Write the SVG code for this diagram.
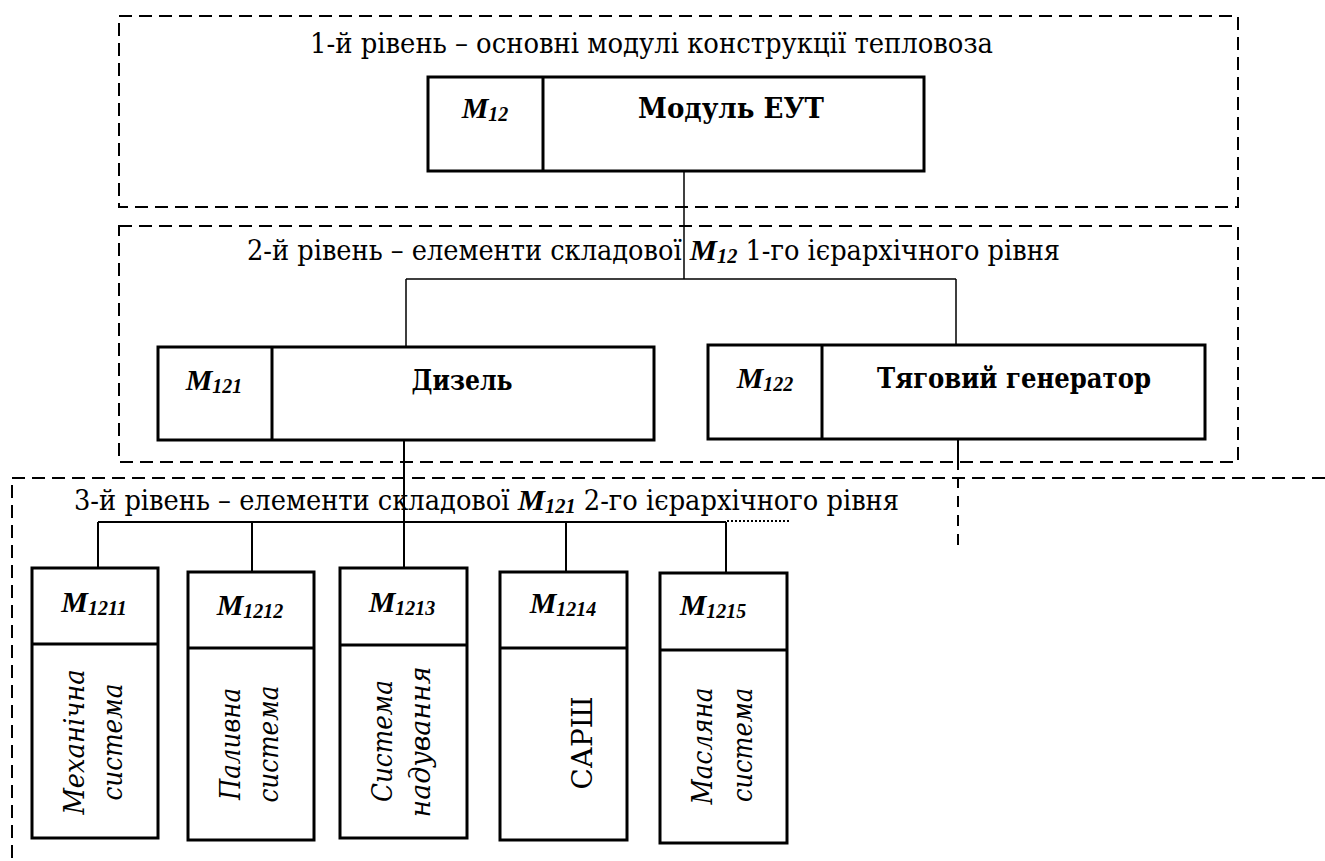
<svg xmlns="http://www.w3.org/2000/svg" width="1325" height="861" viewBox="0 0 1325 861">
<style>
.dash{fill:none;stroke:#000;stroke-width:2;stroke-dasharray:13 7}
.box{fill:#fff;stroke:#000;stroke-width:3}
.div{stroke:#000;stroke-width:3}
.con{fill:none;stroke:#000;stroke-width:1.5}
.con3{fill:none;stroke:#000;stroke-width:2}
.t{font-family:'DejaVu Serif',serif;font-stretch:condensed;font-size:28px;fill:#000}
.m{font-family:'Liberation Serif','Times New Roman',serif;font-stretch:normal;font-weight:bold;font-style:italic;font-size:30px}
.mid{text-anchor:middle}
.b{font-weight:bold}
.i{font-style:italic}
.sub{font-size:20px}
</style>
<rect width="1325" height="861" fill="#fff"/>
<g id="levels">
<rect class="dash" x="119" y="16" width="1119" height="191"/>
<rect class="dash" x="119" y="226" width="1119" height="236"/>
<path class="dash" d="M1325,478 H12 V861"/>
<text class="t" x="310" y="53" textLength="683" lengthAdjust="spacingAndGlyphs">1-й рівень – основні модулі конструкції тепловоза</text>
<text class="t" x="247" y="260" textLength="813" lengthAdjust="spacingAndGlyphs">2-й рівень – елементи складової <tspan class="m">M</tspan><tspan class="m sub" dy="3">12</tspan><tspan dy="-3"> 1-го ієрархічного рівня</tspan></text>
<text class="t" x="74" y="510" textLength="825" lengthAdjust="spacingAndGlyphs">3-й рівень – елементи складової <tspan class="m">M</tspan><tspan class="m sub" dy="3">121</tspan><tspan dy="-3"> 2-го ієрархічного рівня</tspan></text>
</g>
<g id="connectors">
<path class="con" d="M684,172 V279"/>
<path class="con" d="M406,279 H956 M406,279 V347 M956,279 V345"/>
<path class="con3" d="M404,440 V568"/>
<path class="con3" d="M958,439 V470"/>
<path class="con3" d="M958,477 V552" stroke-dasharray="11 8"/>
<path class="con3" d="M98,522 H726 M98,522 V568 M252,522 V572 M566,522 V572 M726,522 V573"/>
<path class="con3" d="M727,521 H790" stroke-dasharray="2 2"/>
</g>
<g id="n-m12">
<rect class="box" x="428" y="77" width="496" height="94"/>
<line class="div" x1="543" y1="77" x2="543" y2="171"/>
<text class="m mid" x="485" y="118">M<tspan class="sub" dy="3">12</tspan></text>
<text class="t mid b" x="731" y="118" textLength="186" lengthAdjust="spacingAndGlyphs">Модуль ЕУТ</text>
</g>
<g id="n-m121">
<rect class="box" x="158" y="347" width="496" height="93"/>
<line class="div" x1="272" y1="347" x2="272" y2="440"/>
<text class="m mid" x="214" y="390">M<tspan class="sub" dy="3">121</tspan></text>
<text class="t mid b" x="462" y="390" textLength="101" lengthAdjust="spacingAndGlyphs">Дизель</text>
</g>
<g id="n-m122">
<rect class="box" x="708" y="345" width="497" height="94"/>
<line class="div" x1="822" y1="345" x2="822" y2="439"/>
<text class="m mid" x="765" y="388">M<tspan class="sub" dy="3">122</tspan></text>
<text class="t mid b" x="1014" y="388" textLength="274" lengthAdjust="spacingAndGlyphs">Тяговий генератор</text>
</g>
<g id="n-m1211">
<rect class="box" x="32" y="568" width="126" height="270"/>
<line class="div" x1="32" y1="644" x2="158" y2="644"/>
<text class="m mid" x="94" y="612">M<tspan class="sub" dy="3">1211</tspan></text>
<text class="t mid i" transform="translate(84,742) rotate(-90)" textLength="145" lengthAdjust="spacingAndGlyphs">Механічна</text>
<text class="t mid i" transform="translate(122,742) rotate(-90)" textLength="117" lengthAdjust="spacingAndGlyphs">система</text>
</g>
<g id="n-m1212">
<rect class="box" x="188" y="572" width="126" height="268"/>
<line class="div" x1="188" y1="648" x2="314" y2="648"/>
<text class="m mid" x="250" y="615">M<tspan class="sub" dy="3">1212</tspan></text>
<text class="t mid i" transform="translate(240,744) rotate(-90)" textLength="112" lengthAdjust="spacingAndGlyphs">Паливна</text>
<text class="t mid i" transform="translate(278,744) rotate(-90)" textLength="117" lengthAdjust="spacingAndGlyphs">система</text>
</g>
<g id="n-m1213">
<rect class="box" x="340" y="568" width="127" height="270"/>
<line class="div" x1="340" y1="645" x2="467" y2="645"/>
<text class="m mid" x="402" y="612">M<tspan class="sub" dy="3">1213</tspan></text>
<text class="t mid i" transform="translate(392,741) rotate(-90)" textLength="122" lengthAdjust="spacingAndGlyphs">Система</text>
<text class="t mid i" transform="translate(430,742) rotate(-90)" textLength="151" lengthAdjust="spacingAndGlyphs">надування</text>
</g>
<g id="n-m1214">
<rect class="box" x="500" y="572" width="127" height="268"/>
<line class="div" x1="500" y1="648" x2="627" y2="648"/>
<text class="m mid" x="563" y="613">M<tspan class="sub" dy="3">1214</tspan></text>
<text class="t mid" transform="translate(592,743) rotate(-90)" textLength="93" lengthAdjust="spacingAndGlyphs">САРШ</text>
</g>
<g id="n-m1215">
<rect class="box" x="660" y="573" width="127" height="270"/>
<line class="div" x1="660" y1="650" x2="787" y2="650"/>
<text class="m mid" x="713" y="615">M<tspan class="sub" dy="3">1215</tspan></text>
<text class="t mid i" transform="translate(712,746) rotate(-90)" textLength="117" lengthAdjust="spacingAndGlyphs">Масляна</text>
<text class="t mid i" transform="translate(752,745) rotate(-90)" textLength="114" lengthAdjust="spacingAndGlyphs">система</text>
</g>
</svg>
